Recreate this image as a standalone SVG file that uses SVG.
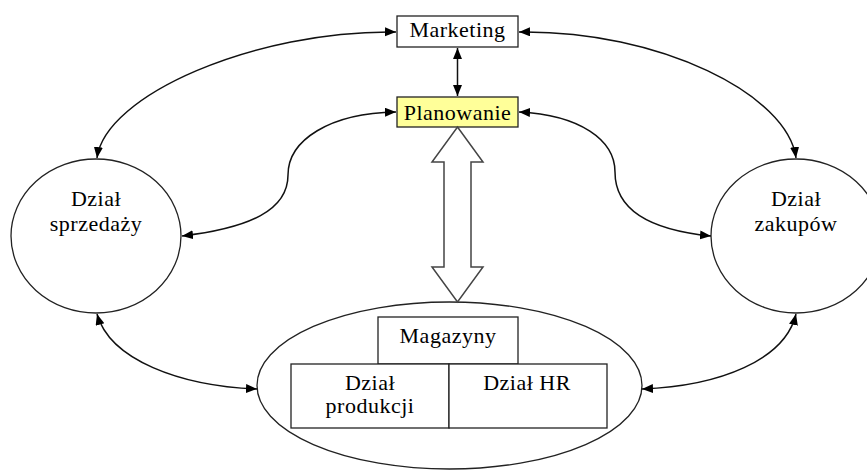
<svg xmlns="http://www.w3.org/2000/svg" width="867" height="471" viewBox="0 0 867 471">
<style>
.box{fill:#fff;stroke:#222;stroke-width:1.3}
.shape{fill:#fff;stroke:#222;stroke-width:1.3}
.conn{fill:none;stroke:#111;stroke-width:1.5;marker-start:url(#ah);marker-end:url(#ah)}
.t{font-family:"Liberation Serif","Times New Roman",serif;font-size:22px;letter-spacing:0.5px;fill:#000;text-anchor:middle}
</style>
<defs>
<marker id="ah" markerUnits="userSpaceOnUse" markerWidth="12" markerHeight="10" refX="11" refY="4.5" orient="auto-start-reverse">
<path d="M0,0 L11,4.5 L0,9 z" fill="#000"/>
</marker>
</defs>
<g id="dzial-sprzedazy">
<ellipse class="shape" cx="96" cy="236" rx="85" ry="77"/>
<text class="t" x="96" y="206">Dział</text>
<text class="t" x="96" y="231">sprzedaży</text>
</g>
<g id="dzial-zakupow">
<ellipse class="shape" cx="796" cy="236" rx="85" ry="77"/>
<text class="t" x="796" y="206">Dział</text>
<text class="t" x="796" y="231">zakupów</text>
</g>
<g id="produkcja-grupa">
<ellipse class="shape" cx="449.5" cy="385.5" rx="192.5" ry="83.5"/>
</g>
<g id="magazyny">
<rect class="box" x="378" y="317" width="140" height="47"/>
<text class="t" x="448" y="343">Magazyny</text>
</g>
<g id="dzial-produkcji">
<rect class="box" x="291" y="364" width="158" height="64"/>
<text class="t" x="370" y="390">Dział</text>
<text class="t" x="370" y="413">produkcji</text>
</g>
<g id="dzial-hr">
<rect class="box" x="449" y="364" width="158" height="64"/>
<text class="t" x="527" y="390">Dział HR</text>
</g>
<g id="marketing">
<rect class="box" x="397" y="16" width="121" height="31"/>
<text class="t" x="457.5" y="37">Marketing</text>
</g>
<g id="planowanie">
<rect x="397" y="97" width="121" height="30" fill="#ffff99" stroke="#222" stroke-width="1.3"/>
<text class="t" x="457.5" y="120">Planowanie</text>
</g>
<g id="connectors">
<path class="conn" d="M457.5,48 L457.5,96"/>
<path class="conn" d="M97,158 C105,95 255,30 396,32"/>
<path class="conn" d="M796,158 C788,95 660,30 519,32"/>
<path class="conn" d="M182,236 C250,228 288,210 288,175 C288,140 330,113 396,112"/>
<path class="conn" d="M711,236 C650,230 615,210 615,172 C615,140 580,115 519,112"/>
<path class="conn" d="M97,314 C110,360 180,386 257,389"/>
<path class="conn" d="M642,389 C720,386 785,360 796,314"/>
<polygon points="457.5,127 483,162 471,162 471,267 483,267 457.5,302 432,267 444,267 444,162 432,162" fill="#fff" stroke="#444" stroke-width="1.5"/>
</g>
</svg>
